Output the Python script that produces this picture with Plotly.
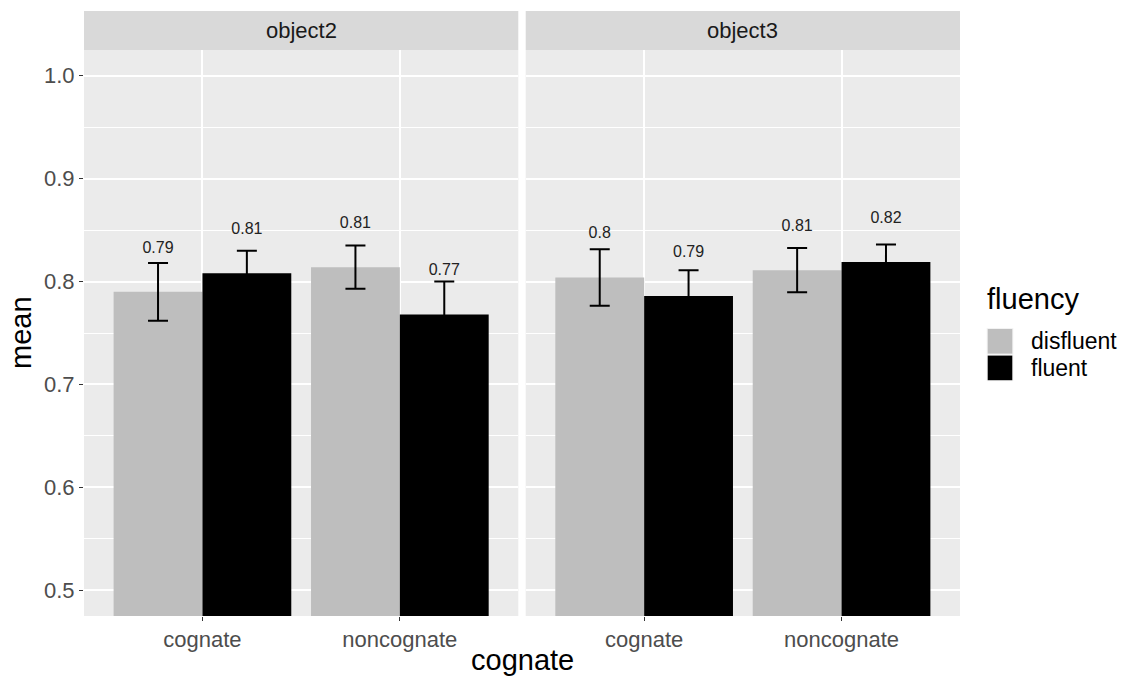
import plotly.graph_objects as go

# ---- data ----
facets = ["object2", "object3"]
categories = ["cognate", "noncognate"]
fluency_levels = ["disfluent", "fluent"]

obj2_disfluent_mean = [0.790, 0.814]
obj2_fluent_mean = [0.808, 0.768]
obj3_disfluent_mean = [0.804, 0.811]
obj3_fluent_mean = [0.786, 0.819]

obj2_disfluent_se = [0.028, 0.021]
obj2_fluent_se = [0.022, 0.032]
obj3_disfluent_se = [0.0275, 0.0215]
obj3_fluent_se = [0.025, 0.017]

y_ticks = [0.5, 0.6, 0.7, 0.8, 0.9, 1.0]

means = {
    ("object2", "disfluent"): obj2_disfluent_mean,
    ("object2", "fluent"): obj2_fluent_mean,
    ("object3", "disfluent"): obj3_disfluent_mean,
    ("object3", "fluent"): obj3_fluent_mean,
}
ses = {
    ("object2", "disfluent"): obj2_disfluent_se,
    ("object2", "fluent"): obj2_fluent_se,
    ("object3", "disfluent"): obj3_disfluent_se,
    ("object3", "fluent"): obj3_fluent_se,
}

# ---- style ----
colors = {"disfluent": "#BEBEBE", "fluent": "#000000"}
LABEL_OFFSET = 0.042
FONT = "Liberation Sans, Arial, sans-serif"
W, H = 1128, 680
ML, MR, MT, MB = 84, 168, 11, 64
PW, PH = W - ML - MR, H - MT - MB
STRIP_H = 39
y_top = (PH - STRIP_H) / PH
gap = 7.4 / PW
domains = [[0, 0.5 - gap / 2], [0.5 + gap / 2, 1]]

fig = go.Figure()
for i, facet in enumerate(facets):
    xa = "x" if i == 0 else "x2"
    for lev in fluency_levels:
        m = means[(facet, lev)]
        s = ses[(facet, lev)]
        fig.add_trace(go.Bar(
            x=categories, y=m, name=lev, xaxis=xa, yaxis="y",
            marker=dict(color=colors[lev], line=dict(width=0)),
            error_y=dict(type="data", array=s, visible=True,
                         color="#000000", thickness=2, width=10),
            showlegend=False, hoverinfo="skip",
        ))
    for lev in fluency_levels:
        m = means[(facet, lev)]
        fig.add_trace(go.Scatter(
            x=categories, y=[v + LABEL_OFFSET for v in m],
            text=[f"{round(v, 2):g}" for v in m],
            mode="text", xaxis=xa, yaxis="y",
            textfont=dict(family=FONT, size=16, color="#222222"),
            showlegend=False, hoverinfo="skip",
        ))

axis_common = dict(
    showgrid=True, gridcolor="white", gridwidth=2,
    zeroline=False, showline=False,
    ticks="outside", ticklen=4, tickwidth=1.2, tickcolor="#333333",
    tickfont=dict(family=FONT, size=22, color="#4D4D4D"),
)

fig.update_layout(
    width=W, height=H,
    margin=dict(l=ML, r=MR, t=MT, b=MB),
    paper_bgcolor="white", plot_bgcolor="#EBEBEB",
    barmode="group", bargap=0.1, bargroupgap=0,
    scattermode="group", scattergap=0.1,
    showlegend=False,
    xaxis=dict(domain=domains[0], anchor="y", type="category",
               range=[-0.6, 1.6], **axis_common),
    xaxis2=dict(domain=domains[1], anchor="y", type="category",
                range=[-0.6, 1.6], **axis_common),
    yaxis=dict(domain=[0, y_top], range=[0.475, 1.025],
               tickvals=y_ticks, tickformat=".1f",
               minor=dict(showgrid=True, gridcolor="white", gridwidth=1,
                          dtick=0.05, tick0=0.5),
               **axis_common),
)

shapes = []
annotations = []
for i, facet in enumerate(facets):
    xr = "x domain" if i == 0 else "x2 domain"
    shapes.append(dict(type="rect", xref=xr, yref="paper",
                       x0=0, x1=1, y0=y_top, y1=1,
                       fillcolor="#D9D9D9", line=dict(width=0), layer="below"))
    annotations.append(dict(text=facet, xref=xr, yref="paper",
                            x=0.5, y=(y_top + 1) / 2, showarrow=False,
                            xanchor="center", yanchor="middle",
                            font=dict(family=FONT, size=22, color="#1A1A1A")))

def px(xp):
    return (xp - ML) / PW

def py(yp):
    return (H - MB - yp) / PH

# axis titles
annotations.append(dict(text="cognate", xref="paper", yref="paper",
                        x=px((ML + W - MR) / 2), y=py(660), showarrow=False,
                        xanchor="center", yanchor="middle",
                        font=dict(family=FONT, size=29, color="#000000")))
annotations.append(dict(text="mean", xref="paper", yref="paper",
                        x=px(21), y=py(333), showarrow=False, textangle=-90,
                        xanchor="center", yanchor="middle",
                        font=dict(family=FONT, size=29, color="#000000")))

# legend (manual, ggplot style)
annotations.append(dict(text="fluency", xref="paper", yref="paper",
                        x=px(985), y=py(299), showarrow=False,
                        xanchor="left", yanchor="middle",
                        font=dict(family=FONT, size=29, color="#000000")))
key_top = 328
key_size = 26.6
for j, lev in enumerate(fluency_levels):
    y0 = key_top + j * key_size
    shapes.append(dict(type="rect", xref="paper", yref="paper",
                       x0=px(986.7), x1=px(986.7 + key_size),
                       y0=py(y0 + key_size), y1=py(y0),
                       fillcolor="#F2F2F2", line=dict(width=0)))
    shapes.append(dict(type="rect", xref="paper", yref="paper",
                       x0=px(987.7), x1=px(986.7 + key_size - 1),
                       y0=py(y0 + key_size - 1), y1=py(y0 + 1),
                       fillcolor=colors[lev], line=dict(width=0)))
    annotations.append(dict(text=lev, xref="paper", yref="paper",
                            x=px(1029), y=py(y0 + key_size / 2), showarrow=False,
                            xanchor="left", yanchor="middle",
                            font=dict(family=FONT, size=23, color="#000000")))

fig.update_layout(shapes=shapes, annotations=annotations)
fig.write_html("out.html")
